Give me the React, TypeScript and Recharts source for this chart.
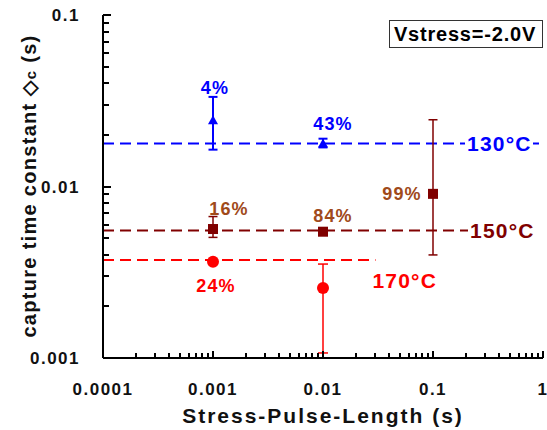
import React from 'react';
import { ScatterChart, Scatter, XAxis, YAxis, ErrorBar, ReferenceLine } from 'recharts';

const FONT = '"Liberation Sans", Arial, sans-serif';

// axis ticks
const xMajor = [0.0001, 0.001, 0.01, 0.1, 1];
const xMajorLabels = ['0.0001', '0.001', '0.01', '0.1', '1'];
const yMajor = [0.001, 0.01, 0.1];
const yMajorLabels = ['0.001', '0.01', '0.1'];
const minorSteps = [2, 3, 4, 5, 6, 7, 8, 9];

// 130°C (blue triangles)
const x130 = [0.001, 0.01];
const y130 = [0.0243, 0.0178];
const lo130 = [0.0164, 0.0169];
const hi130 = [0.0333, 0.019];
const pct130 = ['4%', '43%'];
const level130 = 0.0178;

// 150°C (dark red squares)
const x150 = [0.001, 0.01, 0.1];
const y150 = [0.00565, 0.00545, 0.00906];
const lo150 = [0.00505, 0.00545, 0.00399];
const hi150 = [0.00668, 0.00545, 0.0245];
const pct150 = ['16%', '84%', '99%'];
const level150 = 0.00553;

// 170°C (red circles)
const x170 = [0.001, 0.01];
const y170 = [0.00364, 0.00256];
const lo170 = [0.00364, 0.00107];
const hi170 = [0.00364, 0.00353];
const pct170 = ['24%', ''];
const level170 = 0.00373;
const level170End = 0.03;

// label offsets from marker centre (px)
const off130 = [[2, -33], [10, -20]];
const off150 = [[16, -21], [10, -16], [-31, 0]];
const off170 = [[3, 24], [0, 0]];

const build = (xs: number[], ys: number[], lo: number[], hi: number[], pct: string[]) =>
  xs.map((x, i) => ({ x, y: ys[i], err: [ys[i] - lo[i], hi[i] - ys[i]], pct: pct[i], i }));

const data130 = build(x130, y130, lo130, hi130, pct130);
const data150 = build(x150, y150, lo150, hi150, pct150);
const data170 = build(x170, y170, lo170, hi170, pct170);

const decadeTicks = (majors: number[]) => {
  const out: number[] = [];
  majors.forEach((m, k) => {
    out.push(m);
    if (k < majors.length - 1) minorSteps.forEach(s => out.push(m * s));
  });
  return out;
};
const xTicks = decadeTicks(xMajor);
const yTicks = decadeTicks(yMajor);

const majorIndex = (list: number[], v: number) => list.findIndex(m => Math.abs(m - v) / m < 1e-6);

const textStyle = { fontFamily: FONT, fontWeight: 'bold' as const };

// ticks point into the plot, like the original
const XTick = (props: any) => {
  const x = Math.round(Number(props.x));
  const y = Number(props.y);
  const idx = majorIndex(xMajor, props.payload.value);
  const len = idx >= 0 ? 7 : 5;
  return (
    <g>
      <path d={`M${x},${y}V${y - len}`} stroke="#000" strokeWidth={2} fill="none" />
      {idx >= 0 && (
        <text x={x} y={y + 37} textAnchor="middle" fontSize={17} letterSpacing={1.5} fill="#111" style={textStyle}>
          {xMajorLabels[idx]}
        </text>
      )}
    </g>
  );
};

const YTick = (props: any) => {
  const x = Number(props.x);
  const y = Math.round(Number(props.y));
  const idx = majorIndex(yMajor, props.payload.value);
  const len = idx >= 0 ? 8 : 6;
  return (
    <g>
      <path d={`M${x},${y}H${x + len}`} stroke="#000" strokeWidth={2} fill="none" />
      {idx >= 0 && (
        <text x={x - 23} y={y + 6} textAnchor="end" fontSize={17} letterSpacing={1.5} fill="#111" style={textStyle}>
          {yMajorLabels[idx]}
        </text>
      )}
    </g>
  );
};

const pctText = (cx: number, cy: number, off: number[], text: string, color: string) =>
  text ? (
    <text x={cx + off[0]} y={cy + off[1]} dy="0.36em" textAnchor="middle" fontSize={18} letterSpacing={1.2} fill={color} style={textStyle}>
      {text}
    </text>
  ) : null;

const Triangle = (p: any) => (
  <g>
    <polygon points={`${p.cx},${p.cy - 5} ${p.cx - 5},${p.cy + 4} ${p.cx + 5},${p.cy + 4}`} fill="#0000FF" />
    {pctText(p.cx, p.cy, off130[p.payload.i], p.payload.pct, '#0000FF')}
  </g>
);

const Square = (p: any) => (
  <g>
    <rect x={p.cx - 5} y={p.cy - 5} width={10} height={10} fill="#800000" />
    {pctText(p.cx, p.cy, off150[p.payload.i], p.payload.pct, '#A04A1A')}
  </g>
);

const Dot = (p: any) => (
  <g>
    <circle cx={p.cx} cy={p.cy} r={6} fill="#FF0000" />
    {pctText(p.cx, p.cy, off170[p.payload.i], p.payload.pct, '#FF0000')}
  </g>
);

const tempLabel = (text: string, color: string, dx: number, dy: number, bgWidth: number) => (props: any) => {
  const vb = props.viewBox;
  const tx = vb.x + vb.width + dx;
  const ty = vb.y + dy;
  return (
    <g>
      {bgWidth > 0 && <rect x={tx - 2} y={ty - 11} width={bgWidth} height={22} fill="#fff" />}
      <text x={tx} y={ty} dy="0.36em" fontSize={21} letterSpacing={1.2} fill={color} style={textStyle}>
        {text}
      </text>
    </g>
  );
};

const frameLine = { stroke: '#000', strokeWidth: 2 };

export default function App() {
  return (
    <div style={{ position: 'absolute', left: 0, top: 0, width: 547, height: 430, background: '#fff' }}>
      <ScatterChart width={547} height={430} margin={{ top: 15, right: 4, bottom: 32, left: 13 }}>
        <XAxis
          dataKey="x"
          type="number"
          scale="log"
          domain={[0.0001, 1]}
          allowDataOverflow
          ticks={xTicks}
          interval={0}
          tick={XTick}
          tickLine={false}
          tickSize={0}
          tickMargin={0}
          axisLine={frameLine}
          height={40}
        />
        <XAxis
          xAxisId="top"
          orientation="top"
          dataKey="x"
          type="number"
          scale="log"
          domain={[0.0001, 1]}
          allowDataOverflow
          tick={false}
          tickLine={false}
          axisLine={frameLine}
          height={0}
        />
        <YAxis
          dataKey="y"
          type="number"
          scale="log"
          domain={[0.001, 0.1]}
          allowDataOverflow
          ticks={yTicks}
          interval={0}
          tick={YTick}
          tickLine={false}
          tickSize={0}
          tickMargin={0}
          axisLine={frameLine}
          width={90}
        />
        <YAxis
          yAxisId="right"
          orientation="right"
          dataKey="y"
          type="number"
          scale="log"
          domain={[0.001, 0.1]}
          allowDataOverflow
          tick={false}
          tickLine={false}
          axisLine={frameLine}
          width={0}
        />
        <ReferenceLine
          y={level130}
          stroke="#0000FF"
          strokeWidth={2}
          strokeDasharray="11 6"
          label={tempLabel('130°C', '#0000FF', -76, 0, 68)}
        />
        <ReferenceLine
          y={level150}
          stroke="#800000"
          strokeWidth={2}
          strokeDasharray="11 6"
          label={tempLabel('150°C', '#800000', -73, 0, 75)}
        />
        <ReferenceLine
          segment={[{ x: 0.0001, y: level170 }, { x: level170End, y: level170 }]}
          stroke="#FF0000"
          strokeWidth={2}
          strokeDasharray="11 6"
          label={tempLabel('170°C', '#FF0000', -3, 20, 0)}
        />
        <Scatter data={data130} shape={Triangle} isAnimationActive={false}>
          <ErrorBar dataKey="err" direction="y" width={4.5} stroke="#0000FF" strokeWidth={2} />
        </Scatter>
        <Scatter data={data150} shape={Square} isAnimationActive={false}>
          <ErrorBar dataKey="err" direction="y" width={4.5} stroke="#800000" strokeWidth={1.5} />
        </Scatter>
        <Scatter data={data170} shape={Dot} isAnimationActive={false}>
          <ErrorBar dataKey="err" direction="y" width={5} stroke="#FF0000" strokeWidth={1.5} />
        </Scatter>
        <g>
          <rect x={389.5} y={20.5} width={153} height={27} fill="#fff" stroke="#333" strokeWidth={1} />
          <text x={465} y={34} dy="0.36em" textAnchor="middle" fontSize={20} letterSpacing={0.8} fill="#000" style={textStyle}>
            Vstress=-2.0V
          </text>
        </g>
        <text x={323} y={415} dy="0.36em" textAnchor="middle" fontSize={21} letterSpacing={2} fill="#111" style={textStyle}>
          Stress-Pulse-Length (s)
        </text>
        <text
          transform="translate(29,186) rotate(-90)"
          x={0}
          y={0}
          dy="0.36em"
          textAnchor="middle"
          fontSize={20}
          letterSpacing={1.3}
          fill="#111"
          style={textStyle}
        >
          capture time constant ◇<tspan fontSize={15}>c</tspan> (s)
        </text>
      </ScatterChart>
    </div>
  );
}
